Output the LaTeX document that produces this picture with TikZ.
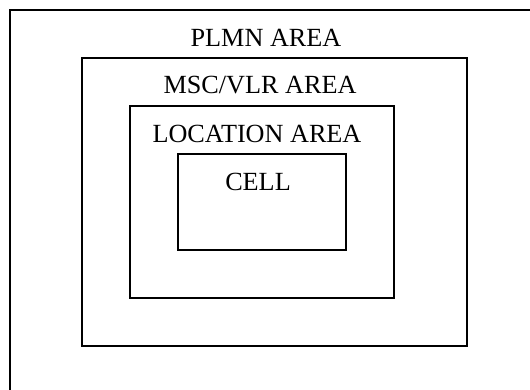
\documentclass[tikz,border=0pt]{standalone}
\usepackage{fontspec}
\setmainfont{Liberation Serif}
\begin{document}
\begin{tikzpicture}[x=1pt,y=-1pt,
  area/.style={draw=black,line width=2pt,fill=none},
  lbl/.style={anchor=base,inner sep=0pt,font=\fontsize{26.2}{30}\selectfont}]
\useasboundingbox (0,0) rectangle (530,389);
\clip (0,0) rectangle (530,389);
\draw[area] (10,10) rectangle (560,420);
\draw[area] (82,58) rectangle (467,346);
\draw[area] (130,106) rectangle (394,298);
\draw[area] (178,154) rectangle (346,250);
\node[lbl] (plmn) at (266,46) {PLMN AREA};
\node[lbl] (msc) at (260,93) {MSC/VLR AREA};
\node[lbl] (la) at (257,142) {LOCATION AREA};
\node[lbl] (cell) at (258,190) {CELL};
\end{tikzpicture}
\end{document}
